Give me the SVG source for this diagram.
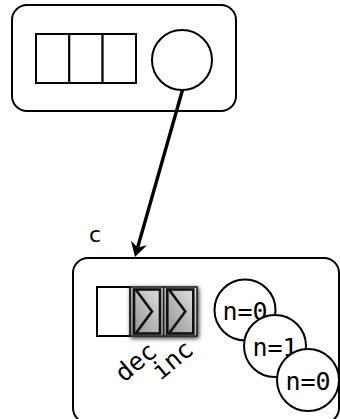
<svg xmlns="http://www.w3.org/2000/svg" width="340" height="419" viewBox="0 0 340 419">
<style>
.box{fill:#fff;stroke:#000;stroke-width:2}
.cell{fill:#fff;stroke:#000;stroke-width:2}
.gcell{fill:url(#gg);stroke:#222;stroke-width:1.6}
.inner{fill:none;stroke:#111;stroke-width:2.6}
.circ{fill:#fff;stroke:#000;stroke-width:2}
.mono{font-family:"DejaVu Sans Mono",monospace;font-size:25px;fill:#000}
.lbl{font-family:"DejaVu Sans",sans-serif;font-size:22px;fill:#000}
.conn{stroke:#000;stroke-width:3.4;fill:none}
</style>
<defs>
<linearGradient id="gg" x1="0" y1="1" x2="1" y2="0">
<stop offset="0" stop-color="#8c8c8c"/>
<stop offset="1" stop-color="#e6e6e6"/>
</linearGradient>
<filter id="sh" x="-40%" y="-40%" width="180%" height="180%">
<feDropShadow dx="1" dy="1.5" stdDeviation="2.2" flood-color="#000" flood-opacity="0.85"/>
</filter>
<marker id="ah" viewBox="-15 -9 16 18" markerWidth="16" markerHeight="18" refX="-10" refY="0" markerUnits="userSpaceOnUse" orient="auto">
<path d="M0,0 L-14.5,-8.3 L-10,0 L-14.5,8.3 Z" fill="#000"/>
</marker>
</defs>

<g id="top">
<rect class="box" x="12" y="5" width="224" height="106" rx="15"/>
<rect class="cell" x="36" y="34" width="33.3" height="49"/>
<rect class="cell" x="69.3" y="34" width="33.3" height="49"/>
<rect class="cell" x="102.6" y="34" width="33.4" height="49"/>
<circle class="circ" cx="182" cy="60" r="30"/>
</g>

<g id="c">
<text class="lbl" x="89" y="242">c</text>
<rect class="box" x="73" y="258" width="266" height="165" rx="15"/>
<rect class="cell" x="97" y="287" width="33.3" height="49"/>
<g filter="url(#sh)">
<rect class="gcell" x="130.3" y="287" width="33.3" height="49"/>
<rect class="gcell" x="163.6" y="287" width="33.4" height="49"/>
</g>
<rect class="inner" x="134" y="289.5" width="26" height="44"/>
<polyline class="inner" points="136,290 152,311.5 136,333"/>
<rect class="inner" x="167.3" y="289.5" width="26" height="44"/>
<polyline class="inner" points="169.3,290 185.3,311.5 169.3,333"/>
<text class="mono" text-anchor="end" transform="translate(158.5,354) rotate(-40)">dec</text>
<text class="mono" text-anchor="end" transform="translate(195,352) rotate(-40)">inc</text>
</g>

<g id="n1">
<circle class="circ" cx="245" cy="310" r="30.5"/>
<text class="mono" x="245" y="319.5" text-anchor="middle">n=0</text>
</g>
<g id="n2">
<circle class="circ" cx="275" cy="346" r="31"/>
<text class="mono" x="275" y="355.5" text-anchor="middle">n=1</text>
</g>
<g id="n3">
<circle class="circ" cx="308" cy="380" r="31"/>
<text class="mono" x="308" y="389.5" text-anchor="middle">n=0</text>
</g>

<g id="connectors">
<line class="conn" x1="182.5" y1="90" x2="137.7" y2="247.4" marker-end="url(#ah)"/>
</g>
</svg>
